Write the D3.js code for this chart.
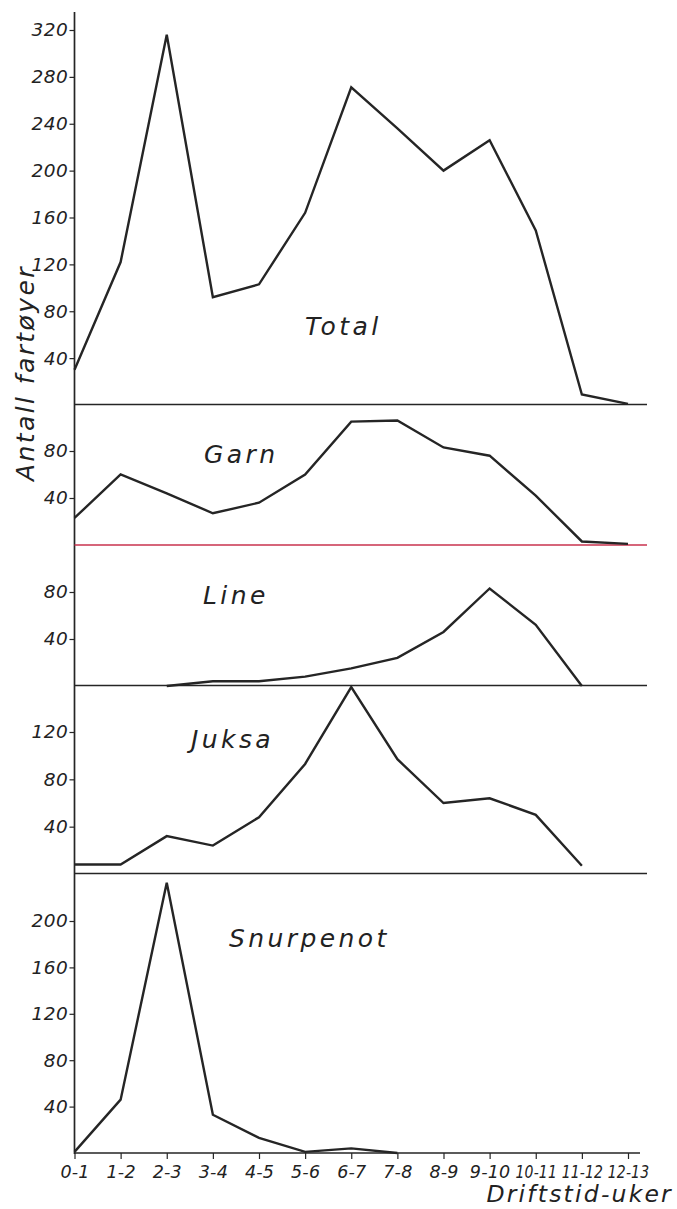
<!DOCTYPE html>
<html>
<head>
<meta charset="utf-8">
<script src="https://cdn.jsdelivr.net/npm/d3@7"></script>
<style>
  html, body { margin: 0; padding: 0; background: #fff; }
  svg text { font-family: "DejaVu Sans", sans-serif; font-style: italic; fill: #222; }
</style>
</head>
<body>
<svg id="chart" width="677" height="1209"></svg>
<script>
// ---- data ----
const categories = ["0-1","1-2","2-3","3-4","4-5","5-6","6-7","7-8","8-9","9-10","10-11","11-12","12-13"];
const totalValues     = [30, 122, 316, 92, 103, 164, 271, 236, 200, 226, 149, 9, 1];
const garnValues      = [23, 60, 44, 27, 36, 60, 105, 106, 83, 76, 42, 3, 1];
const lineValues      = [null, null, 0, 4, 4, 8, 15, 24, 46, 83, 52, 0, null];
const juksaValues     = [8, 8, 32, 24, 48, 93, 158, 97, 60, 64, 50, 7, null];
const snurpenotValues = [1, 46, 233, 33, 13, 1, 4, 0, null, null, null, null, null];

const totalTicks     = [40, 80, 120, 160, 200, 240, 280, 320];
const garnTicks      = [40, 80];
const lineTicks      = [40, 80];
const juksaTicks     = [40, 80, 120];
const snurpenotTicks = [40, 80, 120, 160, 200];

const panelNames = ["Total", "Garn", "Line", "Juksa", "Snurpenot"];
const yTitle = "Antall fartøyer";
const xTitle = "Driftstid-uker";

// ---- layout ----
const svg = d3.select("#chart");
const axisX = 74.5;
const x = d3.scalePoint().domain(categories).range([axisX, 628]);

const panels = [
  {name: panelNames[0], values: totalValues, ticks: totalTicks, y: d3.scaleLinear([0, 320], [405, 30]), base: 404.5, lx: 305, ly: 335},
  {name: panelNames[1], values: garnValues, ticks: garnTicks, y: d3.scaleLinear([0, 80], [545, 451]), base: 545, lx: 204, ly: 463, baseColor: "#c8324e"},
  {name: panelNames[2], values: lineValues, ticks: lineTicks, y: d3.scaleLinear([0, 80], [686, 592]), base: 685.5, lx: 203, ly: 604},
  {name: panelNames[3], values: juksaValues, ticks: juksaTicks, y: d3.scaleLinear([0, 120], [874, 732]), base: 873.5, lx: 191, ly: 748},
  {name: panelNames[4], values: snurpenotValues, ticks: snurpenotTicks, y: d3.scaleLinear([0, 200], [1153, 921]), base: 1153, lx: 229, ly: 947, last: true}
];

const ink = "#252525";

// vertical axis line
svg.append("line")
  .attr("x1", axisX).attr("x2", axisX)
  .attr("y1", 12).attr("y2", 1154)
  .attr("stroke", ink).attr("stroke-width", 1.7);

panels.forEach(p => {
  // baseline
  svg.append("line")
    .attr("x1", axisX).attr("x2", p.last ? 640 : 647)
    .attr("y1", p.base).attr("y2", p.base)
    .attr("stroke", p.baseColor || ink).attr("stroke-width", 1.7);

  // y axis ticks
  const ax = svg.append("g")
    .attr("transform", `translate(${axisX},0)`)
    .call(d3.axisLeft(p.y).tickValues(p.ticks).tickSize(5).tickPadding(1).tickFormat(d3.format("d")));
  ax.select(".domain").remove();
  ax.selectAll(".tick line").attr("stroke", ink).attr("stroke-width", 1.2);
  ax.selectAll(".tick text")
    .attr("font-size", 18.5).attr("font-family", "DejaVu Sans").attr("font-style", "italic")
    .attr("fill", "#222").attr("letter-spacing", 0.6);

  // data line
  const line = d3.line()
    .defined(d => d.v !== null)
    .x(d => x(d.c))
    .y(d => p.y(d.v));
  svg.append("path")
    .datum(categories.map((c, i) => ({c, v: p.values[i]})))
    .attr("d", line)
    .attr("fill", "none")
    .attr("stroke", ink)
    .attr("stroke-width", 2.4)
    .attr("stroke-linejoin", "miter");

  // panel label
  svg.append("text")
    .attr("x", p.lx).attr("y", p.ly)
    .attr("font-size", 25).attr("letter-spacing", 3.4)
    .text(p.name);
});

// x axis
const xa = svg.append("g")
  .attr("transform", "translate(0,1153)")
  .call(d3.axisBottom(x).tickSize(6).tickPadding(4));
xa.select(".domain").remove();
xa.selectAll(".tick line").attr("stroke", ink).attr("stroke-width", 1.2);
xa.selectAll(".tick text")
  .attr("y", 25).attr("dy", 0)
  .attr("font-size", 17.5).attr("font-family", "DejaVu Sans").attr("font-style", "italic")
  .attr("fill", "#222").attr("letter-spacing", 0.2)
  .attr("transform", d => d.length > 4 ? "scale(0.8,1)" : null);

// axis titles
svg.append("text")
  .attr("transform", "translate(34,481) rotate(-90)")
  .attr("font-size", 25).attr("letter-spacing", 2.4)
  .text(yTitle);

svg.append("text")
  .attr("x", 673).attr("y", 1202)
  .attr("text-anchor", "end")
  .attr("font-size", 23.5).attr("letter-spacing", 2.2)
  .text(xTitle);
</script>
</body>
</html>
